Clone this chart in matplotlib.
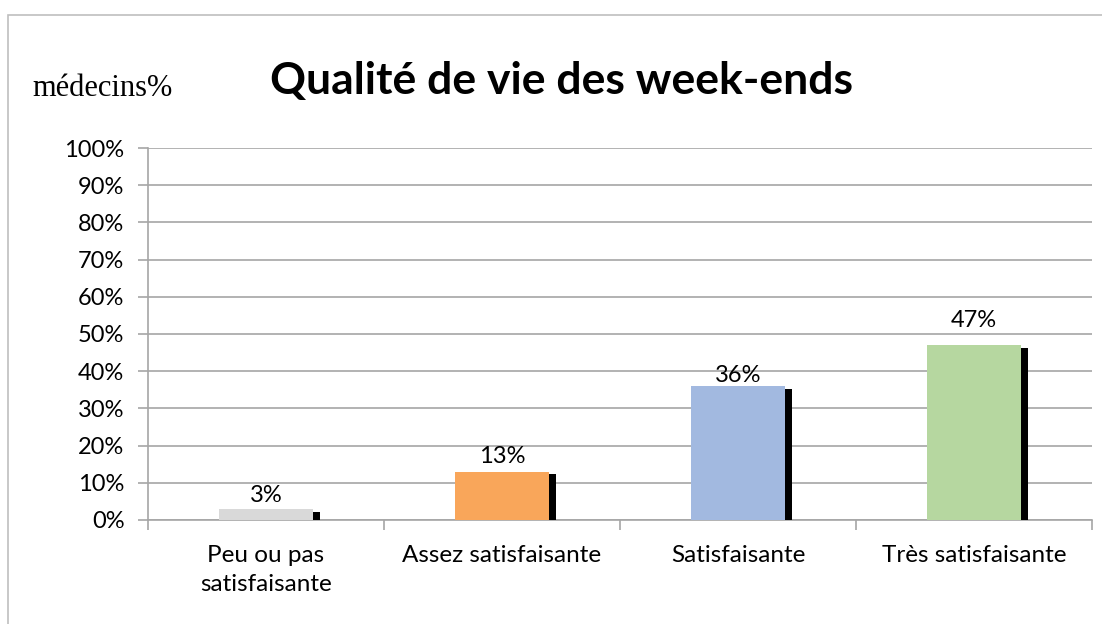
import matplotlib.pyplot as plt
import matplotlib.patheffects as pe
from matplotlib.patches import Rectangle
from matplotlib.ticker import MultipleLocator, FuncFormatter

categories = ["Peu ou pas\nsatisfaisante", "Assez satisfaisante", "Satisfaisante", "Très satisfaisante"]
values = [3, 13, 36, 47]
labels = ["3%", "13%", "36%", "47%"]
colors = ["#D9D9D9", "#F9A65A", "#A2B9E0", "#B6D7A0"]
label_offsets = [2, 3, 0, 10]  # points above bar top

sans = ["Lato", "DejaVu Sans"]

fig = plt.figure(figsize=(11.02, 6.24), dpi=100)
ax = fig.add_axes([0.1343, 0.1667, 0.9909 - 0.1343, 0.7628 - 0.1667])

# outer chart border (only top and left edges are in frame)
fig.patches.append(Rectangle((8 / 1102, -0.1), 1.2, 1 - 15 / 624 + 0.1, transform=fig.transFigure,
                             fill=False, edgecolor="#BFBFBF", linewidth=1.2, zorder=0))

x = range(len(values))
shadow = [pe.SimplePatchShadow(offset=(5, -2.0), shadow_rgbFace="black", alpha=1.0), pe.Normal()]
bars = ax.bar(x, values, width=0.4, color=colors, zorder=3)
for b in bars:
    b.set_path_effects(shadow)

for i, (v, t) in enumerate(zip(values, labels)):
    ax.annotate(t, (i, v), xytext=(0, label_offsets[i]), textcoords="offset points",
                ha="center", va="bottom", fontsize=17, family=sans, zorder=4)

ax.set_xlim(-0.5, 3.5)
ax.set_ylim(0, 100)
ax.yaxis.set_major_locator(MultipleLocator(10))
ax.yaxis.set_major_formatter(FuncFormatter(lambda v, p: f"{int(v)}%"))
ax.yaxis.grid(True, color="#A6A6A6", linewidth=1.2, zorder=0)
ax.set_axisbelow(True)

ax.set_xticks([-0.5, 0.5, 1.5, 2.5, 3.5])
ax.set_xticklabels([])
ax.set_xticks(list(x), minor=True)
ax.set_xticklabels(categories, minor=True, fontsize=17.5, family=sans, linespacing=1.45)
ax.tick_params(axis="x", which="minor", length=0, pad=18)
ax.tick_params(axis="x", which="major", length=7, color="#A6A6A6", width=1.2)
ax.tick_params(axis="y", length=7, color="#A6A6A6", width=1.2, pad=10)
for lbl in ax.get_yticklabels():
    lbl.set_family(sans)
    lbl.set_fontsize(17)

for s in ["top", "right"]:
    ax.spines[s].set_visible(False)
ax.spines["left"].set_color("#A6A6A6")
ax.spines["bottom"].set_color("#A6A6A6")
ax.spines["left"].set_linewidth(1.2)
ax.spines["bottom"].set_linewidth(1.2)

fig.text(562 / 1102, 1 - 81 / 624, "Qualité de vie des week-ends", ha="center", va="center",
         fontsize=32, fontweight="bold", family=sans)
fig.text(32 / 1102, 1 - 88 / 624, "médecins%", ha="left", va="center",
         fontsize=22, family=["Liberation Serif", "DejaVu Serif"])

fig.savefig("out.png", dpi=100)
